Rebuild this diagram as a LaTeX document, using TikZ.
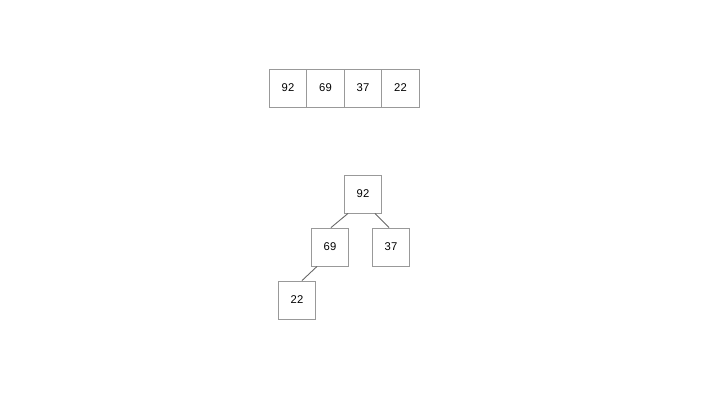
\documentclass[tikz,border=0pt]{standalone}
\usepackage{fontspec}
\setmainfont{Liberation Sans}
\begin{document}
\begin{tikzpicture}[box/.style={draw=gray!80, line width=0.5pt, minimum width=0.75cm, minimum height=0.76cm, inner sep=0pt, font=\fontsize{6.4}{7}\selectfont}, link/.style={draw=black!60, line width=0.5pt}]

\useasboundingbox (0,0) rectangle (14.4,8.1);

\node[box] (a92) at(5.76,6.34){92};

\node[box] (a69) at(6.51,6.34){69};

\node[box] (a37) at(7.26,6.34){37};

\node[box] (a22) at(8.01,6.34){22};

\node[box] (n92) at(7.26,4.22){92};

\node[box] (n69) at(6.60,3.16){69};

\node[box] (n37) at(7.82,3.16){37};

\node[box] (n22) at(5.94,2.10){22};

\draw[link] ([xshift=-0.3cm]n92.south)--([xshift=0.02cm]n69.north);

\draw[link] ([xshift=0.24cm]n92.south)--([xshift=-0.04cm]n37.north);

\draw[link] ([xshift=-0.26cm]n69.south)--([xshift=0.1cm]n22.north);

\end{tikzpicture}
\end{document}
